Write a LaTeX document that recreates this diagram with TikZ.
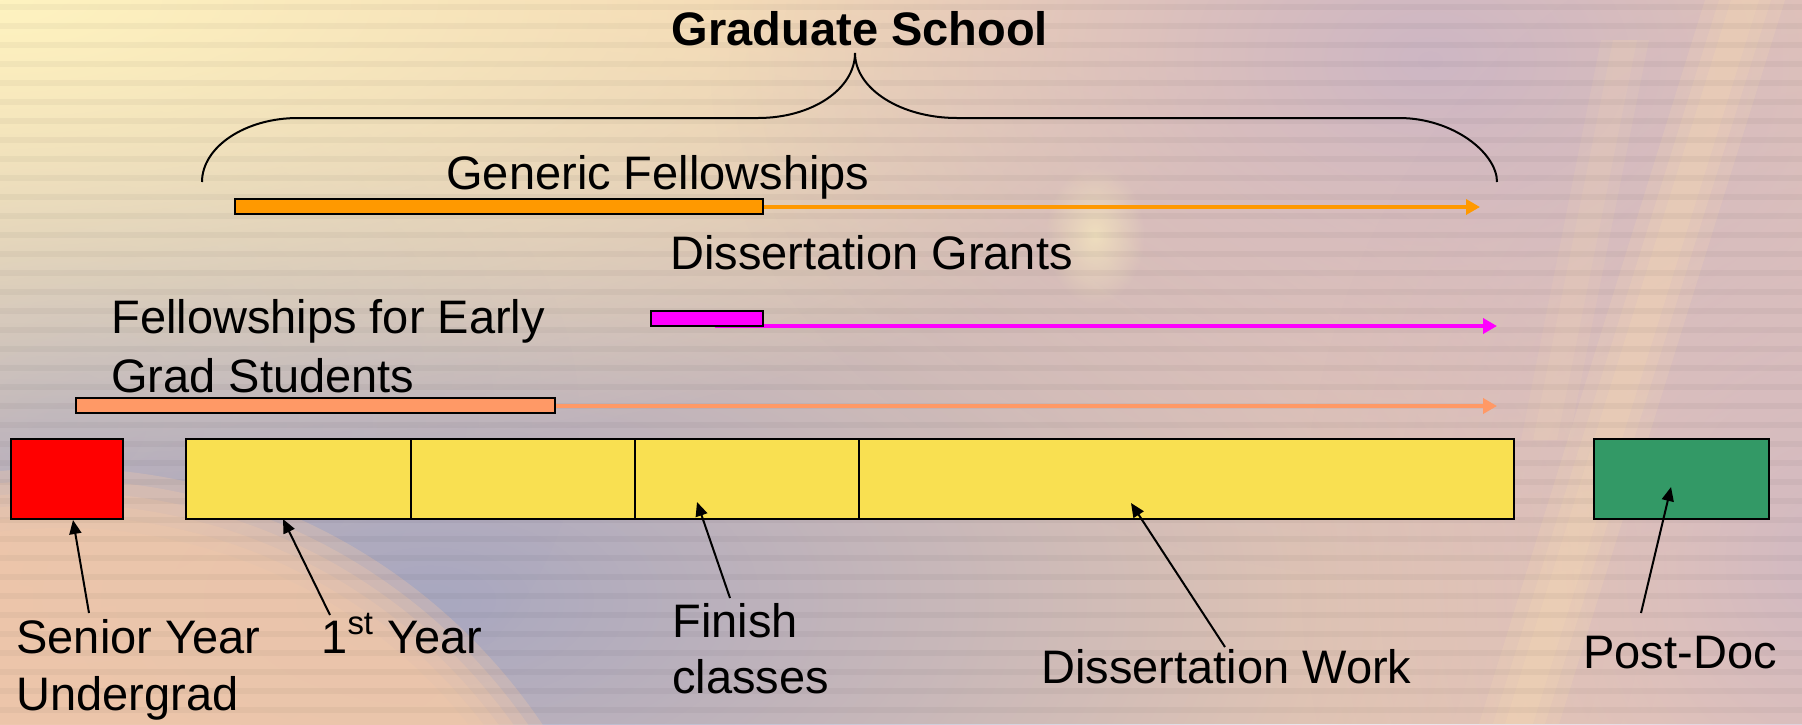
\documentclass[tikz,border=0pt]{standalone}
\usepackage{fontspec}
\setmainfont{Liberation Sans}
\usetikzlibrary{arrows.meta,fadings}
\definecolor{bgpeach}{HTML}{F4CEB0}
\definecolor{bgyellow}{HTML}{FEF3C0}
\definecolor{bggrey}{HTML}{A9A8C0}
\definecolor{bglav}{HTML}{C9B4C6}
\definecolor{planet}{HTML}{F3C9AA}
\definecolor{streak}{HTML}{FADDB2}
\definecolor{barorange}{HTML}{FF9900}
\definecolor{barmag}{HTML}{FF00FF}
\definecolor{barsalmon}{HTML}{FF9966}
\definecolor{boxred}{HTML}{FF0000}
\definecolor{boxyellow}{HTML}{F9E051}
\definecolor{boxgreen}{HTML}{339966}
\tikzfading[name=glow, inner color=transparent!0, outer color=transparent!100]
\begin{document}
\begin{tikzpicture}[x=0.5pt,y=-0.5pt,
  lbl/.style={font=\fontsize{23.5pt}{28.5pt}\selectfont, inner sep=0pt, anchor=base west},
  box/.style={draw=black, line width=1.2pt, inner sep=0pt, anchor=north west, minimum height=40pt},
  bar/.style={draw=black, line width=1pt, inner sep=0pt, anchor=north west, minimum height=7.5pt},
  pointer/.style={draw=black, line width=1pt, -{Triangle[length=7pt,width=6pt]}},
  span/.style={line width=2pt, -{Triangle[length=7pt,width=7.5pt]}},
  brace/.style={draw=black, line width=1pt}
]
\useasboundingbox (0,0) rectangle (1802,724);
% ---------- background ----------
\begin{scope}
\clip (0,0) rectangle (1802,724);
\fill[bgpeach] (0,0) rectangle (1802,724);
\fill[bggrey, path fading=glow] (430,600) ellipse[x radius=620pt, y radius=330pt];
\fill[bggrey, opacity=0.5, path fading=glow] (60,420) ellipse[x radius=260pt, y radius=200pt];
\foreach \r in {520,532,544,556,568,580}
  \fill[planet, opacity=0.3] (61,1048) circle[radius=\r*0.5pt];
\fill[bgyellow, path fading=glow] (0,0) ellipse[x radius=650pt, y radius=240pt];
\fill[bglav, opacity=0.9, path fading=glow] (1430,60) ellipse[x radius=360pt, y radius=260pt];
\fill[bglav, opacity=0.8, path fading=glow] (1820,560) ellipse[x radius=260pt, y radius=320pt];
\foreach \w in {40,26,14}
  \fill[streak, opacity=0.18] (1745-\w,0) -- (1745+\w,0) -- (1519+\w,724) -- (1519-\w,724) -- cycle;
\foreach \w in {24,12}
  \fill[streak, opacity=0.12] (1625-\w,40) -- (1625+\w,40) -- (1545+\w,440) -- (1545-\w,440) -- cycle;
\fill[bgyellow, opacity=0.6, path fading=glow] (1095,235) ellipse[x radius=25pt, y radius=35pt];
\foreach \yy in {4,23,...,724}
  \fill[black, opacity=0.035] (0,\yy) rectangle (1802,\yy+6);
\end{scope}
% ---------- brace and title ----------
\node[lbl, anchor=base, font=\fontsize{23.5pt}{28.5pt}\selectfont\bfseries] (title) at (860,45) {Graduate School};
\coordinate (braceL) at (202,182);
\coordinate (braceTip) at (855,53);
\coordinate (braceR) at (1497,182);
\draw[brace] (braceL) .. controls (202,147) and (245,118) .. (298,118)
  -- (758,118) .. controls (812,118) and (855,89) .. (braceTip)
  .. controls (855,89) and (901,118) .. (957,118)
  -- (1399,118) .. controls (1453,118) and (1497,153) .. (braceR);
% ---------- funding bars ----------
\node[lbl] (gen) at (446,189) {Generic Fellowships};
\node[bar, fill=barorange, minimum width=264pt] (genbar) at (234,198) {};
\coordinate (genEnd) at (1480,207);
\draw[span, barorange] (genbar.east |- genEnd) -- (genEnd);

\node[lbl] (diss) at (670,269) {Dissertation Grants};
\coordinate (dissStart) at (715,326);
\coordinate (dissEnd) at (1497,326);
\draw[span, barmag] (dissStart) -- (dissEnd);
\node[bar, fill=barmag, minimum width=56pt] (dissbar) at (650,310) {};

\node[lbl] (early1) at (111,333) {Fellowships for Early};
\node[lbl] (early2) at (111,392) {Grad Students};
\node[bar, fill=barsalmon, minimum width=239.5pt] (earlybar) at (75,397) {};
\coordinate (earlyEnd) at (1497,406);
\draw[span, barsalmon] (earlybar.east |- earlyEnd) -- (earlyEnd);
% ---------- timeline boxes ----------
\node[box, fill=boxred, minimum width=56pt] (senior) at (10,438) {};
\node[box, fill=boxyellow, minimum width=112.5pt] (year1) at (185,438) {};
\node[box, fill=boxyellow, minimum width=112pt] (year2) at (410,438) {};
\node[box, fill=boxyellow, minimum width=112pt] (year3) at (634,438) {};
\node[box, fill=boxyellow, minimum width=327.5pt] (diswork) at (858,438) {};
\node[box, fill=boxgreen, minimum width=87.5pt] (postdoc) at (1593,438) {};
% ---------- labels ----------
\node[lbl] (sen1) at (16,653) {Senior Year};
\node[lbl] (sen2) at (16,710) {Undergrad};
\node[lbl] (first) at (321,653) {1\textsuperscript{st} Year};
\node[lbl] (fin1) at (672,637) {Finish};
\node[lbl] (fin2) at (672,693) {classes};
\node[lbl] (dwork) at (1041,683) {Dissertation Work};
\node[lbl] (post) at (1583,668) {Post-Doc};
% ---------- pointers ----------
\coordinate (senTail) at (89,613);   \coordinate (senTip) at (73,520);
\coordinate (firstTail) at (330,615); \coordinate (firstTip) at (283,519);
\coordinate (finTail) at (730,598);  \coordinate (finTip) at (697,502);
\coordinate (dwTail) at (1225,647);  \coordinate (dwTip) at (1131,503);
\coordinate (postTail) at (1641,613); \coordinate (postTip) at (1671,487);
\draw[pointer] (senTail) -- (senTip);
\draw[pointer] (firstTail) -- (firstTip);
\draw[pointer] (finTail) -- (finTip);
\draw[pointer] (dwTail) -- (dwTip);
\draw[pointer] (postTail) -- (postTip);
\end{tikzpicture}
\end{document}
